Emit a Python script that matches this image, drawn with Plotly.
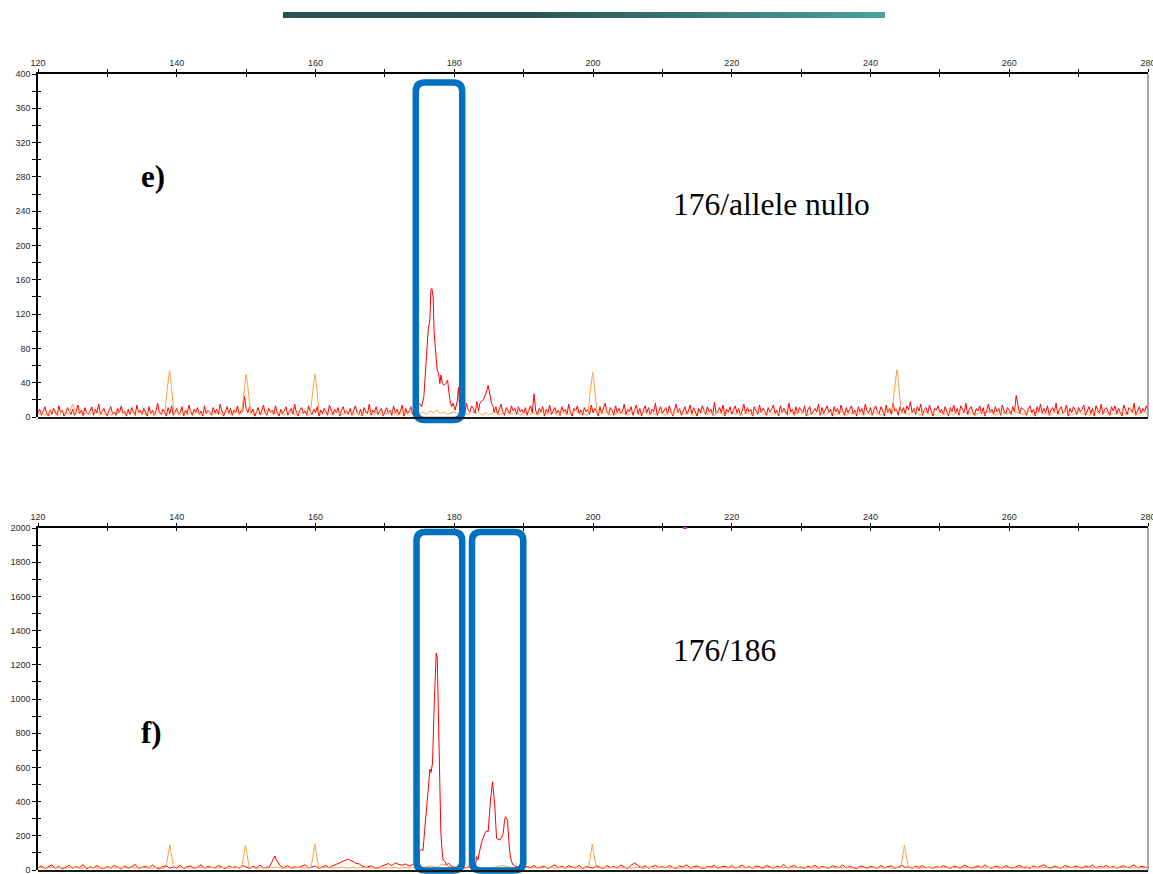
import numpy as np
import plotly.graph_objects as go

# ---------------------------------------------------------------- data ----
# Fragment size axis (bp) shared by both electropherograms
SIZE_RANGE = [120, 280]
E_RFU_RANGE = [0, 400]
F_RFU_RANGE = [0, 2000]

# Sample channel baseline, panel e, sampled every 0.25 bp from 120 to 280 (RFU)
e_red_baseline = [
    5, 9, 2, 7, 12, 4, 1, 8, 3, 10, 6, 2, 13, 5, 8, 1, 4, 11, 7, 3,
    9, 2, 6, 14, 4, 8, 1, 11, 5, 3, 7, 12, 2, 9, 5, 15, 3, 6, 10, 4,
    1, 8, 12, 3, 6, 2, 10, 5, 13, 4, 7, 1, 9, 3, 11, 6, 2, 14, 5, 8,
    3, 10, 6, 1, 12, 4, 8, 2, 7, 16, 5, 3, 9, 6, 1, 11, 4, 13, 2, 7,
    10, 3, 5, 12, 1, 8, 4, 14, 6, 2, 9, 5, 11, 3, 7, 1, 13, 4, 8, 6,
    2, 11, 5, 9, 3, 15, 7, 1, 6, 12, 4, 10, 2, 8, 5, 13, 3, 7, 17, 4,
    8, 2, 12, 5, 9, 1, 6, 11, 3, 7, 14, 4, 2, 10, 6, 8, 3, 13, 5, 1,
    9, 4, 7, 12, 2, 6, 10, 3, 15, 5, 1, 8, 11, 4, 7, 2, 13, 6, 3, 9,
    5, 12, 1, 8, 4, 10, 6, 2, 14, 7, 3, 9, 5, 11, 1, 8, 12, 4, 6, 3,
    10, 2, 7, 13, 5, 3, 9, 1, 11, 6, 4, 15, 2, 8, 5, 12, 3, 7, 10, 1,
    6, 11, 4, 8, 2, 13, 5, 9, 3, 7, 14, 1, 10, 4, 6, 12, 3, 8, 5, 16,
    10, 8, 12, 9, 11, 14, 10, 12, 9, 11, 13, 8, 10, 12, 9, 11, 13, 10, 12, 9,
    11, 7, 14, 5, 9, 12, 3, 16, 8, 6, 13, 10, 4, 18, 7, 11, 5, 9, 14, 6,
    10, 13, 8, 5, 12, 3, 9, 15, 6, 2, 11, 8, 4, 13, 7, 10, 3, 12, 6, 9,
    4, 11, 2, 8, 13, 5, 27, 7, 3, 10, 6, 12, 1, 9, 5, 14, 3, 7, 11, 4,
    8, 2, 12, 6, 9, 3, 15, 5, 1, 10, 7, 13, 4, 8, 2, 11, 6, 9, 3, 14,
    5, 10, 7, 1, 12, 4, 9, 16, 6, 3, 11, 8, 2, 13, 5, 10, 4, 7, 15, 3,
    9, 6, 12, 2, 8, 14, 4, 10, 1, 7, 13, 5, 11, 3, 9, 6, 16, 2, 8, 12,
    4, 7, 11, 3, 13, 6, 1, 9, 15, 5, 10, 2, 8, 12, 4, 7, 14, 3, 11, 6,
    1, 10, 5, 13, 8, 3, 12, 6, 9, 2, 17, 4, 7, 11, 5, 14, 1, 9, 6, 12,
    3, 8, 13, 5, 10, 2, 7, 15, 4, 11, 6, 9, 1, 12, 8, 3, 14, 5, 10, 7,
    2, 11, 6, 9, 14, 4, 8, 1, 13, 5, 10, 7, 3, 16, 6, 9, 2, 12, 4, 11,
    8, 5, 13, 1, 9, 12, 3, 7, 10, 6, 15, 2, 11, 4, 8, 13, 5, 9, 1, 12,
    6, 10, 3, 14, 7, 2, 11, 5, 9, 13, 4, 8, 1, 12, 6, 10, 3, 15, 7, 5,
    11, 2, 9, 13, 6, 4, 12, 8, 1, 14, 5, 10, 3, 16, 7, 9, 2, 12, 6, 11,
    4, 13, 8, 18, 5, 10, 3, 12, 7, 15, 2, 9, 11, 4, 14, 6, 1, 10, 8, 13,
    5, 9, 3, 12, 7, 1, 11, 6, 14, 4, 10, 2, 13, 8, 5, 16, 3, 9, 12, 6,
    2, 10, 7, 13, 4, 11, 1, 8, 15, 5, 9, 3, 12, 6, 10, 2, 14, 7, 4, 11,
    8, 3, 12, 6, 25, 14, 4, 11, 9, 7, 2, 10, 13, 5, 9, 1, 12, 6, 15, 4,
    10, 5, 13, 2, 8, 11, 6, 16, 3, 9, 12, 4, 7, 14, 1, 10, 5, 12, 8, 3,
    11, 6, 9, 14, 2, 7, 12, 4, 10, 1, 13, 8, 5, 15, 3, 9, 11, 6, 2, 12,
    7, 13, 4, 10, 6, 1, 14, 8, 3, 11, 9, 5, 16, 2, 7, 12, 4, 10, 6, 13,
    8,
]
# Remaining channels sampled every 0.5 bp from 120 to 280 (RFU)
e_orange_baseline = [
    3, 6, 2, 5, 8, 4, 2, 7, 3, 5, 15, 4, 6, 2, 5, 3, 7, 4, 6, 3,
    5, 2, 6, 4, 8, 3, 5, 7, 2, 6, 4, 3, 7, 5, 2, 6, 4, 8, 3, 5,
    6, 3, 5, 2, 7, 4, 6, 3, 5, 8, 2, 4, 6, 3, 7, 5, 2, 6, 4, 3,
    5, 7, 3, 6, 2, 4, 8, 5, 3, 6, 4, 2, 7, 5, 3, 6, 4, 8, 2, 5,
    4, 6, 3, 7, 5, 2, 6, 4, 3, 8, 5, 3, 6, 2, 4, 7, 5, 3, 6, 4,
    3, 5, 7, 4, 2, 6, 4, 8, 3, 5, 4, 6, 3, 7, 5, 8, 4, 6, 3, 5,
    6, 4, 2, 5, 3, 7, 4, 6, 2, 5, 3, 4, 6, 2, 5, 7, 3, 4, 6, 2,
    4, 7, 3, 5, 2, 6, 4, 3, 7, 5, 2, 6, 4, 3, 5, 8, 3, 6, 2, 4,
    5, 3, 6, 4, 7, 2, 5, 3, 6, 4, 2, 5, 7, 3, 4, 6, 2, 5, 3, 6,
    4, 2, 6, 3, 5, 8, 4, 3, 6, 2, 5, 4, 7, 3, 5, 2, 6, 4, 3, 5,
    7, 3, 5, 2, 6, 4, 3, 5, 8, 4, 2, 6, 3, 5, 4, 7, 2, 5, 3, 6,
    4, 6, 2, 5, 3, 7, 4, 2, 6, 5, 3, 4, 7, 2, 5, 3, 6, 4, 2, 5,
    3, 6, 4, 2, 5, 7, 3, 5, 2, 6, 4, 3, 5, 8, 2, 4, 6, 3, 5, 2,
    6, 4, 3, 5, 2, 7, 4, 6, 3, 5, 2, 4, 6, 3, 7, 5, 2, 4, 6, 3,
    5, 2, 6, 4, 3, 5, 7, 2, 4, 6, 3, 5, 2, 6, 4, 3, 7, 5, 2, 4,
    6, 3, 5, 2, 4, 7, 3, 5, 6, 2, 4, 3, 6, 5, 2, 7, 4, 3, 5, 6,
    3,
]
f_red_baseline = [
    12, 25, 8, 18, 30, 10, 22, 6, 15, 28, 9, 20, 14, 32, 7, 19, 11, 26, 13, 8,
    21, 10, 27, 15, 6, 24, 12, 18, 33, 9, 16, 22, 11, 29, 14, 7, 20, 25, 10, 17,
    13, 28, 8, 19, 24, 11, 16, 31, 9, 22, 15, 12, 27, 18, 7, 23, 14, 20, 10, 26,
    16, 9, 21, 13, 29, 11, 18, 24, 12, 20, 8, 15, 26, 10, 19, 14, 22, 30, 11, 17,
    23, 9, 18, 27, 12, 20, 15, 8, 25, 13, 21, 10, 16, 28, 11, 19, 24, 14, 9, 22,
    30, 38, 25, 42, 33, 28, 36, 22, 31, 40, 26, 35, 29, 44, 24, 37, 30, 21, 28, 19,
    18, 14, 22, 11, 19, 26, 24, 17, 29, 13, 21, 16, 27, 12, 20, 25, 15, 23, 18, 12,
    9, 21, 14, 27, 11, 17, 23, 8, 19, 30, 13, 22, 10, 25, 16, 12, 28, 7, 20, 15,
    11, 24, 17, 9, 26, 14, 20, 12, 29, 16, 8, 28, 41, 26, 13, 25, 10, 19, 27, 14,
    20, 12, 26, 15, 9, 23, 17, 31, 11, 19, 24, 13, 8, 21, 16, 28, 10, 18, 22, 14,
    25, 11, 17, 29, 13, 20, 9, 24, 16, 12, 27, 18, 10, 22, 15, 33, 11, 19, 26, 13,
    17, 9, 23, 14, 28, 12, 20, 16, 10, 25, 18, 13, 30, 11, 21, 15, 8, 24, 19, 12,
    22, 16, 10, 27, 13, 19, 24, 11, 17, 29, 14, 20, 9, 23, 15, 26, 12, 18, 10, 21,
    14, 25, 18, 9, 22, 16, 12, 28, 20, 11, 17, 24, 13, 30, 15, 10, 23, 19, 12, 26,
    16, 11, 21, 27, 14, 18, 9, 25, 13, 20, 31, 15, 12, 22, 17, 10, 26, 19, 13, 23,
    18, 12, 24, 15, 29, 11, 20, 16, 27, 13, 22, 9, 19, 25, 14, 18, 30, 12, 21, 16,
    14,
]
f_orange_baseline = [
    12, 15, 10, 14, 17, 11, 13, 16, 9, 14, 12, 18, 10, 13, 15, 11, 16, 12, 14, 10,
    13, 17, 11, 14, 12, 16, 10, 15, 13, 11, 17, 12, 14, 10, 16, 13, 11, 15, 12, 14,
    10, 16, 13, 12, 15, 11, 14, 17, 10, 13, 16, 12, 11, 15, 13, 10, 14, 12, 16, 11,
    14, 12, 16, 10, 13, 15, 11, 14, 12, 17, 10, 13, 15, 12, 11, 16, 13, 10, 14, 12,
    15, 11, 13, 16, 12, 10, 14, 13, 17, 11, 12, 15, 10, 14, 13, 16, 11, 12, 15, 13,
    11, 14, 12, 16, 10, 13, 15, 12, 14, 11, 16, 13, 18, 24, 20, 15, 28, 32, 22, 16,
    13, 11, 15, 12, 14, 10, 16, 13, 11, 15, 12, 14, 16, 22, 26, 20, 14, 12, 15, 11,
    14, 12, 10, 15, 13, 11, 16, 12, 14, 10, 13, 15, 11, 14, 12, 16, 10, 13, 15, 12,
    11, 14, 12, 16, 10, 13, 15, 11, 14, 12, 17, 10, 13, 15, 12, 11, 16, 13, 10, 14,
    12, 15, 11, 13, 16, 10, 14, 12, 15, 11, 13, 17, 10, 14, 12, 16, 11, 13, 15, 12,
    14, 10, 16, 12, 13, 15, 11, 14, 12, 10, 16, 13, 15, 11, 14, 12, 17, 10, 13, 15,
    11, 13, 15, 12, 14, 10, 16, 13, 11, 15, 12, 14, 10, 16, 13, 11, 15, 12, 14, 10,
    13, 16, 11, 14, 12, 15, 10, 13, 16, 12, 14, 11, 15, 13, 10, 14, 12, 16, 11, 13,
    15, 12, 14, 10, 16, 13, 11, 15, 12, 14, 10, 17, 13, 11, 15, 12, 14, 10, 16, 13,
    12, 14, 11, 15, 13, 10, 16, 12, 14, 11, 15, 13, 10, 14, 12, 16, 11, 13, 15, 12,
    14, 11, 13, 16, 12, 15, 10, 14, 12, 13, 16, 11, 15, 12, 14, 10, 13, 15, 12, 14,
    13,
]

# Peaks: (size bp list, RFU list)
e_red_peaks = [
    ([149.5, 149.75, 150.0, 150.25], [6, 24, 10, 5]),
    ([174.94, 175.29, 175.62, 175.91, 176.24, 176.48, 176.63, 176.77, 176.96,
      177.1, 177.35, 177.54, 177.74, 177.93, 178.07, 178.31, 178.55, 178.79,
      179.04, 179.18, 179.37, 179.61, 179.84, 180.13, 180.42, 180.62, 180.81],
     [16, 12, 24, 63, 101, 113, 148, 150, 140, 98, 66, 55, 51, 39, 49, 39, 37,
      39, 43, 31, 20, 12, 16, 8, 18, 35, 4]),
    ([183.69, 184.17, 184.55, 184.89, 185.13, 185.37, 185.61],
     [16, 20, 27, 37, 27, 16, 12]),
]
e_orange_peaks = [
    ([138.3, 138.55, 138.8, 138.95, 139.1, 139.35, 139.6], [4, 27, 48, 54, 46, 27, 4]),
    ([149.35, 149.6, 149.85, 150.0, 150.15, 150.4, 150.65], [4, 25, 44, 50, 43, 24, 4]),
    ([159.25, 159.5, 159.75, 159.9, 160.05, 160.3, 160.55], [4, 25, 44, 50, 43, 24, 4]),
    ([199.3, 199.55, 199.8, 199.95, 200.1, 200.35, 200.6], [4, 26, 46, 52, 45, 25, 4]),
    ([243.15, 243.4, 243.65, 243.8, 243.95, 244.2, 244.45], [4, 28, 49, 55, 47, 27, 4]),
]
f_red_peaks = [
    ([153.3, 153.7, 154.0, 154.15, 154.35, 154.6, 154.9, 155.3],
     [15, 45, 70, 82, 60, 40, 25, 15]),
    ([162.2, 162.8, 163.4, 163.9, 164.3, 164.7, 165.0, 165.4, 165.8, 166.3, 166.8, 167.3],
     [20, 30, 40, 52, 58, 64, 55, 50, 40, 35, 22, 15]),
    ([174.85, 175.0, 175.25, 175.5, 175.75, 176.0, 176.2, 176.38, 176.5, 176.65,
      176.87, 177.1, 177.3, 177.4, 177.55, 177.7, 177.93, 178.07, 178.25, 178.4,
      178.7, 178.9, 179.2, 179.5, 179.9],
     [22, 110, 120, 115, 240, 370, 480, 546, 590, 570, 626, 955, 1200, 1268,
      1240, 918, 643, 216, 110, 58, 48, 30, 40, 25, 18]),
    ([183.05, 183.21, 183.4, 183.69, 184.0, 184.41, 184.65, 184.89, 185.05,
      185.23, 185.52, 185.7, 185.85, 186.1, 186.4, 186.57, 186.8, 187.05,
      187.25, 187.39, 187.55, 187.68, 187.85, 188.01, 188.25, 188.49, 188.8],
     [20, 78, 60, 117, 170, 214, 230, 224, 330, 409, 516, 440, 370, 185, 178,
      175, 190, 214, 290, 312, 300, 292, 180, 99, 50, 29, 22]),
]
f_orange_peaks = [
    ([138.45, 138.7, 138.9, 139.0, 139.15, 139.35, 139.55], [15, 70, 130, 146, 110, 50, 15]),
    ([149.35, 149.6, 149.8, 149.9, 150.05, 150.25, 150.45], [15, 70, 130, 146, 110, 50, 15]),
    ([159.35, 159.6, 159.8, 159.9, 160.05, 160.25, 160.45], [15, 72, 135, 152, 115, 52, 15]),
    ([199.35, 199.6, 199.8, 199.9, 200.05, 200.25, 200.45], [15, 72, 135, 152, 115, 52, 15]),
    ([244.35, 244.6, 244.8, 244.9, 245.05, 245.25, 245.45], [15, 70, 130, 146, 110, 50, 15]),
]

# Highlighted allele windows: (size from, size to, RFU from, RFU to)
e_allele_boxes = [(174.46, 181.15, -3.5, 390)]
f_allele_boxes = [(174.56, 181.15, -3, 1977), (182.56, 189.95, -3, 1977)]

panel_labels = ["e)", "f)"]
genotype_labels = ["176/allele nullo", "176/186"]

# -------------------------------------------------------------- layout ----
W, H = 1153, 874
PLOT_LEFT, PLOT_RIGHT = 38, 1148
E_TOP, E_BOTTOM = 74, 417
F_TOP, F_BOTTOM = 528, 870

RED = "#FF0000"
ORANGE = "#FF9F45"
BOX_BLUE = "#0070C0"
TICK_FONT = dict(family="Arial, Liberation Sans, sans-serif", size=9, color="#2a2a2a")
SERIF = "Times New Roman, Liberation Serif, serif"


def px_x(p):
    return p / W


def px_y(p):
    return 1 - p / H


def build_trace(baseline, peaks):
    xs = np.linspace(SIZE_RANGE[0], SIZE_RANGE[1], len(baseline))
    ys = np.asarray(baseline, dtype=float)
    keep = np.ones(len(xs), dtype=bool)
    for px_, _ in peaks:
        keep &= ~((xs >= min(px_)) & (xs <= max(px_)))
    all_x = list(xs[keep])
    all_y = list(ys[keep])
    for px_, py_ in peaks:
        all_x += list(px_)
        all_y += list(py_)
    order = np.argsort(all_x)
    return np.asarray(all_x)[order], np.asarray(all_y)[order]


fig = go.Figure()

panels = [
    dict(xa="x", ya="y", rng=E_RFU_RANGE, top=E_TOP, bottom=E_BOTTOM,
         red=(e_red_baseline, e_red_peaks), orange=(e_orange_baseline, e_orange_peaks),
         boxes=e_allele_boxes, ov=("x3", "y3")),
    dict(xa="x2", ya="y2", rng=F_RFU_RANGE, top=F_TOP, bottom=F_BOTTOM,
         red=(f_red_baseline, f_red_peaks), orange=(f_orange_baseline, f_orange_peaks),
         boxes=f_allele_boxes, ov=("x4", "y4")),
]

for p in panels:
    rx, ry = build_trace(*p["red"])
    ox, oy = build_trace(*p["orange"])
    fig.add_trace(go.Scatter(x=rx, y=ry, mode="lines", xaxis=p["xa"], yaxis=p["ya"],
                             line=dict(color=RED, width=1), hoverinfo="skip"))
    fig.add_trace(go.Scatter(x=ox, y=oy, mode="lines", xaxis=p["xa"], yaxis=p["ya"],
                             line=dict(color=ORANGE, width=1), hoverinfo="skip"))
    # empty trace to carry the inner tick axes
    fig.add_trace(go.Scatter(x=[], y=[], xaxis=p["ov"][0], yaxis=p["ov"][1],
                             hoverinfo="skip"))

x_dom = [px_x(PLOT_LEFT), px_x(PLOT_RIGHT)]


def x_axis(anchor, outer=True):
    d = dict(range=SIZE_RANGE, side="top", anchor=anchor, showgrid=False, zeroline=False,
             automargin=False,
             tickmode="linear", tick0=120, dtick=20, tickcolor="black", tickwidth=1,
             minor=dict(dtick=10, tick0=120, tickcolor="black", tickwidth=1,
                        ticks="outside" if outer else "inside", ticklen=3),
             ticks="outside" if outer else "inside", ticklen=3)
    if outer:
        d.update(domain=x_dom, showline=True, linecolor="black", linewidth=1.5,
                 tickfont=TICK_FONT, showticklabels=True, ticklabeloverflow="allow")
    else:
        d.update(showline=False, showticklabels=False)
    return d


def y_axis(anchor, rng, top, bottom, outer=True):
    step = rng[1] / 10
    d = dict(range=rng, side="left", anchor=anchor, showgrid=False, zeroline=False,
             automargin=False,
             tickmode="linear", tick0=0, dtick=step, tickcolor="black", tickwidth=1,
             minor=dict(dtick=step / 2, tick0=0, tickcolor="black", tickwidth=1,
                        ticks="outside" if outer else "inside", ticklen=4 if outer else 3),
             ticks="outside" if outer else "inside", ticklen=4 if outer else 3)
    if outer:
        d.update(domain=[px_y(bottom), px_y(top)], showline=True, linecolor="black",
                 linewidth=1.5, tickfont=TICK_FONT, showticklabels=True,
                 ticklabeloverflow="allow")
    else:
        d.update(showline=False, showticklabels=False)
    return d


layout_axes = dict(
    xaxis=x_axis("y"),
    yaxis=y_axis("x", E_RFU_RANGE, E_TOP, E_BOTTOM),
    xaxis2=x_axis("y2"),
    yaxis2=y_axis("x2", F_RFU_RANGE, F_TOP, F_BOTTOM),
    xaxis3=dict(x_axis("y3", outer=False), overlaying="x"),
    yaxis3=dict(y_axis("x3", E_RFU_RANGE, E_TOP, E_BOTTOM, outer=False), overlaying="y"),
    xaxis4=dict(x_axis("y4", outer=False), overlaying="x2"),
    yaxis4=dict(y_axis("x4", F_RFU_RANGE, F_TOP, F_BOTTOM, outer=False), overlaying="y2"),
)

shapes = []

# gradient title bar
bar_l, bar_r, bar_t, bar_b = 283, 885, 12, 18
dark = np.array([42, 83, 81])
light = np.array([76, 161, 156])
n_seg = 90
for i in range(n_seg):
    t = (i + 0.5) / n_seg
    k = 0.0 if t < 0.4 else (t - 0.4) / 0.6
    c = dark + (light - dark) * k
    x0 = bar_l + (bar_r - bar_l) * i / n_seg
    x1 = bar_l + (bar_r - bar_l) * (i + 1) / n_seg + 0.6
    shapes.append(dict(type="rect", xref="paper", yref="paper",
                       x0=px_x(x0), x1=px_x(min(x1, bar_r)), y0=px_y(bar_b), y1=px_y(bar_t),
                       line=dict(width=0),
                       fillcolor="rgb(%d,%d,%d)" % tuple(int(v) for v in c),
                       layer="below"))


def rounded_path(x0, x1, y0, y1, r):
    # x/y in paper units, r in pixels
    rx, ry = r / W, r / H
    return (f"M {x0 + rx},{y1} L {x1 - rx},{y1} Q {x1},{y1} {x1},{y1 - ry} "
            f"L {x1},{y0 + ry} Q {x1},{y0} {x1 - rx},{y0} "
            f"L {x0 + rx},{y0} Q {x0},{y0} {x0},{y0 + ry} "
            f"L {x0},{y1 - ry} Q {x0},{y1} {x0 + rx},{y1} Z")


for p in panels:
    xspan = SIZE_RANGE[1] - SIZE_RANGE[0]
    rng = p["rng"]

    def to_px(sx, v):
        px_ = PLOT_LEFT + (sx - SIZE_RANGE[0]) / xspan * (PLOT_RIGHT - PLOT_LEFT)
        py_ = p["bottom"] - (v - rng[0]) / (rng[1] - rng[0]) * (p["bottom"] - p["top"])
        return px_, py_

    for (sx0, sx1, v0, v1) in p["boxes"]:
        ax0, ay0 = to_px(sx0, v0)
        ax1, ay1 = to_px(sx1, v1)
        shapes.append(dict(type="path", xref="paper", yref="paper",
                           path=rounded_path(px_x(ax0), px_x(ax1), px_y(ay0), px_y(ay1), 9),
                           line=dict(color=BOX_BLUE, width=6.5), layer="above"))

    # bottom baseline and right border of the trace window
    shapes.append(dict(type="line", xref="paper", yref="paper",
                       x0=px_x(PLOT_LEFT), x1=px_x(PLOT_RIGHT),
                       y0=px_y(p["bottom"] + 1), y1=px_y(p["bottom"] + 1),
                       line=dict(color="#1a1a1a", width=2), layer="above"))
    shapes.append(dict(type="line", xref="paper", yref="paper",
                       x0=px_x(PLOT_RIGHT), x1=px_x(PLOT_RIGHT),
                       y0=px_y(p["bottom"]), y1=px_y(p["top"]),
                       line=dict(color="#8a8a8a", width=1.5), layer="above"))

# small magenta marker on the lower size scale
shapes.append(dict(type="line", xref="paper", yref="paper",
                   x0=px_x(683), x1=px_x(687), y0=px_y(F_TOP), y1=px_y(F_TOP),
                   line=dict(color="#E020E0", width=2), layer="above"))

annotations = [
    dict(text="<b>%s</b>" % panel_labels[0], x=px_x(153), y=px_y(176), xref="paper", yref="paper",
         showarrow=False, xanchor="center", yanchor="middle",
         font=dict(family=SERIF, size=31, color="black")),
    dict(text=genotype_labels[0], x=px_x(671), y=px_y(204), xref="paper", yref="paper",
         showarrow=False, xanchor="left", yanchor="middle",
         font=dict(family=SERIF, size=31.5, color="black")),
    dict(text="<b>%s</b>" % panel_labels[1], x=px_x(151), y=px_y(732), xref="paper", yref="paper",
         showarrow=False, xanchor="center", yanchor="middle",
         font=dict(family=SERIF, size=31, color="black")),
    dict(text=genotype_labels[1], x=px_x(671), y=px_y(650), xref="paper", yref="paper",
         showarrow=False, xanchor="left", yanchor="middle",
         font=dict(family=SERIF, size=31.5, color="black")),
]

fig.update_layout(
    width=W, height=H, autosize=False,
    margin=dict(l=0, r=0, t=0, b=0, pad=0, autoexpand=False),
    paper_bgcolor="white", plot_bgcolor="rgba(0,0,0,0)",
    showlegend=False,
    shapes=shapes,
    annotations=annotations,
    **layout_axes,
)

fig.write_html("out.html")
